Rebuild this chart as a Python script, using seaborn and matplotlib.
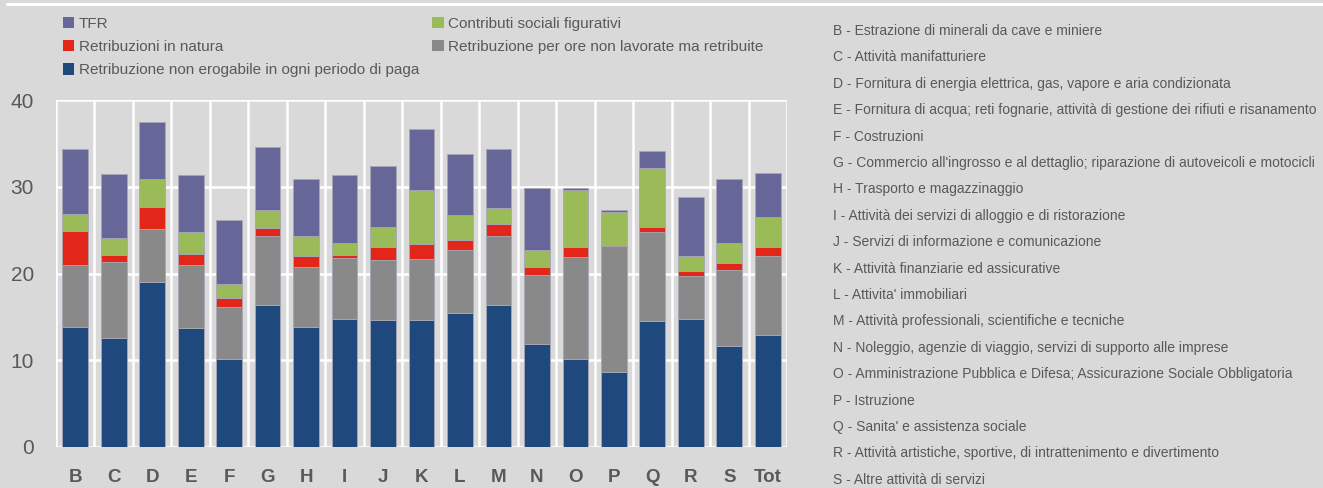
import matplotlib
matplotlib.use("Agg")
import matplotlib.pyplot as plt
from matplotlib.patches import Patch
import seaborn as sns
import pandas as pd

settori = ['B', 'C', 'D', 'E', 'F', 'G', 'H', 'I', 'J', 'K', 'L', 'M', 'N', 'O', 'P', 'Q', 'R', 'S', 'Tot']

# componenti (dal basso verso l'alto)
retrib_non_erogabile = [13.8, 12.6, 19.0, 13.7, 10.1, 16.4, 13.8, 14.8, 14.6, 14.6, 15.5, 16.4, 11.9, 10.2, 8.6, 14.5, 14.7, 11.7, 12.9]
retrib_ore_non_lavorate = [7.2, 8.7, 6.1, 7.3, 6.0, 7.9, 7.0, 7.0, 6.9, 7.1, 7.2, 7.9, 7.9, 11.7, 14.6, 10.3, 5.0, 8.7, 9.1]
retrib_natura = [3.9, 0.8, 2.6, 1.3, 1.1, 0.9, 1.2, 0.3, 1.6, 1.7, 1.2, 1.4, 0.9, 1.2, 0.1, 0.6, 0.6, 0.8, 1.0]
contributi_figurativi = [2.0, 2.0, 3.2, 2.5, 1.6, 2.1, 2.3, 1.4, 2.3, 6.2, 2.8, 1.8, 2.0, 6.5, 3.8, 6.8, 1.7, 2.3, 3.5]
tfr = [7.4, 7.4, 6.6, 6.5, 7.4, 7.3, 6.6, 7.9, 7.0, 7.0, 7.1, 6.8, 7.1, 0.3, 0.2, 1.9, 6.8, 7.4, 5.1]

descrizioni = [
    "B - Estrazione di minerali da cave e miniere",
    "C - Attività manifatturiere",
    "D - Fornitura di energia elettrica, gas, vapore e aria condizionata",
    "E - Fornitura di acqua; reti fognarie, attività di gestione dei rifiuti e risanamento",
    "F - Costruzioni",
    "G - Commercio all'ingrosso e al dettaglio; riparazione di autoveicoli e motocicli",
    "H - Trasporto e magazzinaggio",
    "I - Attività dei servizi di alloggio e di ristorazione",
    "J - Servizi di informazione e comunicazione",
    "K - Attività finanziarie ed assicurative",
    "L - Attivita' immobiliari",
    "M - Attività professionali, scientifiche e tecniche",
    "N - Noleggio, agenzie di viaggio, servizi di supporto alle imprese",
    "O - Amministrazione Pubblica e Difesa; Assicurazione Sociale Obbligatoria",
    "P - Istruzione",
    "Q - Sanita' e assistenza sociale",
    "R - Attività artistiche, sportive, di intrattenimento e divertimento",
    "S - Altre attività di servizi",
]

BG = '#D9D9D9'
TXT = '#595959'


def main():
    sns.set_style('white')
    plt.rcParams['font.family'] = ['Liberation Sans', 'DejaVu Sans']

    df = pd.DataFrame({
        'settore': settori,
        'Retribuzione non erogabile in ogni periodo di paga': retrib_non_erogabile,
        'Retribuzione per ore non lavorate ma retribuite': retrib_ore_non_lavorate,
        'Retribuzioni in natura': retrib_natura,
        'Contributi sociali figurativi': contributi_figurativi,
        'TFR': tfr,
    })
    colori = {
        'Retribuzione non erogabile in ogni periodo di paga': '#1F497D',
        'Retribuzione per ore non lavorate ma retribuite': '#898989',
        'Retribuzioni in natura': '#E3261A',
        'Contributi sociali figurativi': '#9BBB59',
        'TFR': '#666699',
    }

    fig = plt.figure(figsize=(13.23, 4.88), dpi=100, facecolor=BG)
    ax = fig.add_axes([56 / 1323, 1 - 447 / 488, 731 / 1323, 347 / 488])
    ax.set_facecolor(BG)

    # barre impilate: ogni componente parte dalla somma delle precedenti
    bottom = [0.0] * len(settori)
    for col, colore in colori.items():
        sns.barplot(data=df, x='settore', y=col, bottom=bottom, color=colore, saturation=1,
                    width=0.67, edgecolor='#a7a7b5', linewidth=0.6, ax=ax)
        bottom = [b + v for b, v in zip(bottom, df[col])]

    ax.set_xlim(-0.5, len(settori) - 0.5)
    ax.set_ylim(0, 40)
    ax.set_yticks([0, 10, 20, 30, 40])
    ax.set_xticks([i + 0.5 for i in range(-1, len(settori))], minor=True)
    ax.set_axisbelow(True)
    ax.grid(axis='y', which='major', color='white', linewidth=1.8)
    ax.grid(axis='x', which='minor', color='white', linewidth=1.8)
    for s in ax.spines.values():
        s.set_visible(False)
    ax.set_xlabel('')
    ax.set_ylabel('')
    ax.tick_params(axis='x', which='major', length=0, pad=16, labelsize=13.5, labelcolor=TXT)
    ax.tick_params(axis='x', which='minor', length=6, width=1.8, color='white')
    ax.tick_params(axis='y', length=5, width=1.8, color='white', labelsize=15, labelcolor=TXT, pad=11)
    for lab in ax.get_xticklabels():
        lab.set_fontweight('bold')

    ordine = ['TFR', 'Retribuzioni in natura', 'Retribuzione non erogabile in ogni periodo di paga',
              'Contributi sociali figurativi', 'Retribuzione per ore non lavorate ma retribuite']
    handles = [Patch(facecolor=colori[k], edgecolor='none', label=k) for k in ordine]
    fig.legend(handles=handles, loc='upper left', bbox_to_anchor=(63 / 1323, 1 - 17 / 488),
               ncol=2, frameon=False, fontsize=11, labelcolor=TXT, borderpad=0, borderaxespad=0,
               handlelength=0.75, handleheight=0.75, handletextpad=0.3, columnspacing=0.85,
               labelspacing=0.6)

    # linea bianca in alto
    fig.add_artist(plt.Line2D([7 / 1323, 1], [1 - 4 / 488, 1 - 4 / 488], color='white',
                              linewidth=2.2, transform=fig.transFigure))

    for i, testo in enumerate(descrizioni):
        fig.text(833 / 1323, 1 - (31 + i * 26.4) / 488, testo, fontsize=10, color=TXT,
                 va='center', ha='left')

    fig.savefig('out.png', dpi=100, facecolor=BG)


if __name__ == '__main__':
    main()
